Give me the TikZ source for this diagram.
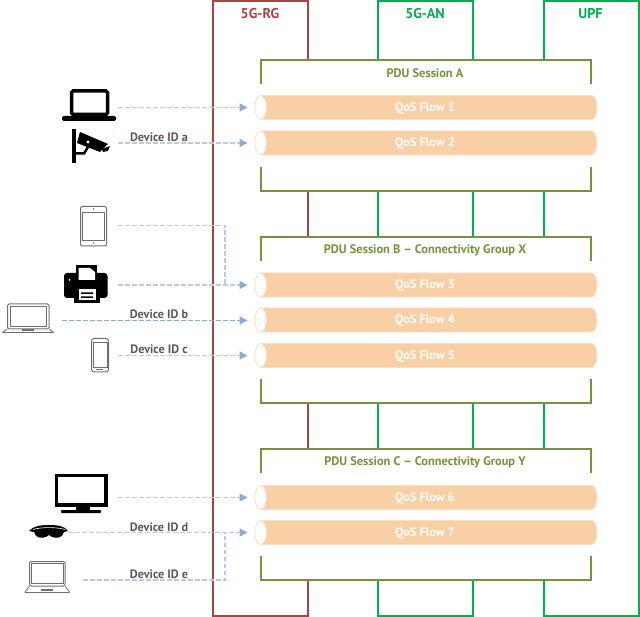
\documentclass[tikz,border=0pt]{standalone}
\usepackage{fontspec}
\setmainfont{PT Sans}
\usetikzlibrary{arrows.meta,shapes.geometric}
\definecolor{rgred}{HTML}{A94442}
\definecolor{angreen}{HTML}{00B050}
\definecolor{pduolive}{HTML}{76923C}
\definecolor{flowpeach}{HTML}{F9CFA6}
\definecolor{flowedge}{HTML}{FBDDC2}
\definecolor{linkblue}{HTML}{B9CBE4}
\definecolor{tipblue}{HTML}{8FAAD6}
\definecolor{idgray}{HTML}{595959}
\definecolor{icongray}{HTML}{6E6E6E}
\tikzset{
  column/.style={draw=#1, line width=1.8pt, minimum width=95pt, minimum height=615pt, inner sep=0pt},
  coltext/.style={text=#1, font=\bfseries\fontsize{14.2}{16}\selectfont, inner sep=0pt},
  session/.style={fill=white, minimum width=330pt, inner sep=0pt},
  bracket/.style={draw=pduolive, line width=1.8pt},
  sesstext/.style={text=pduolive, font=\bfseries\fontsize{12.4}{14}\selectfont, inner sep=0pt},
  flow/.style={cylinder, shape border rotate=180, aspect=1.0, draw=flowedge, line width=0.8pt,
    cylinder uses custom fill, cylinder body fill=flowpeach, cylinder end fill=white,
    minimum width=24pt, minimum height=342pt, inner sep=0pt,
    font=\bfseries\fontsize{12.3}{14}\selectfont},
  flowtext/.style={text=white, font=\bfseries\fontsize{12.3}{14}\selectfont, inner sep=0pt},
  link/.style={draw=linkblue, line width=1.2pt, dash pattern=on 4.5pt off 2.5pt},
  linkstrong/.style={link, draw=tipblue},
  tip/.style={-{Triangle[length=8pt,width=8pt,color=tipblue]}},
  idtext/.style={text=idgray, font=\bfseries\fontsize{12.2}{14}\selectfont, inner sep=0pt},
}
\begin{document}
\begin{tikzpicture}[x=1pt,y=-1pt]
  \useasboundingbox (0,0) rectangle (640,617);

  % network functions
  \node[column=rgred] (rg) at (260.5,308.5) {};
  \node[column=angreen] (an) at (425.5,308.5) {};
  \node[column=angreen] (upf) at (591.5,308.5) {};
  \node[coltext=rgred] (rgtext) at (260,14) {5G-RG};
  \node[coltext=angreen] (antext) at (425,14) {5G-AN};
  \node[coltext=angreen] (upftext) at (590.5,14) {UPF};

  % sessions
  \node[session, minimum height=131pt] (sessA) at (426,125.5) {};
  \node[session, minimum height=166pt] (sessB) at (426,320) {};
  \node[session, minimum height=131pt] (sessC) at (426,514.5) {};
  \foreach \s in {sessA,sessB,sessC} {
    \draw[bracket] ([yshift=-24pt]\s.north west) -- (\s.north west) -- (\s.north east) -- ([yshift=-24pt]\s.north east);
    \draw[bracket] ([yshift=24pt]\s.south west) -- (\s.south west) -- (\s.south east) -- ([yshift=24pt]\s.south east);
  }
  \node[sesstext] (sessAtext) at (425,73) {PDU Session A};
  \node[sesstext] (sessBtext) at (425,250) {PDU Session B – Connectivity Group X};
  \node[sesstext] (sessCtext) at (425,462) {PDU Session C – Connectivity Group Y};

  % flows
  \foreach \f/\y in {1/107.5,2/143,3/285,4/320,5/355.5,6/497.5,7/532.5} {
    \node[flow] (flow\f) at (429,\y) {\phantom{QoS Flow \f}};
    \node[flowtext] (flow\f text) at (425,\y+0.7) {QoS Flow \f};
  }

  % links
  \coordinate (dev1) at (118,107.5);
  \coordinate (dev2) at (118,143);
  \coordinate (dev3) at (118,225.5);
  \coordinate (dev4) at (118,285);
  \coordinate (dev5) at (62,320.5);
  \coordinate (dev6) at (118,355.5);
  \coordinate (dev7) at (118,497.5);
  \coordinate (dev8) at (68,532.5);
  \coordinate (dev9) at (83,580);
  \coordinate (join3) at (225,285);
  \coordinate (join7) at (225,532.5);
  \draw[link] (dev3) -| (join3);
  \draw[link] (dev9) -| (join7);
  \foreach \a/\b/\st in {dev1/flow1/link,dev2/flow2/link,dev4/flow3/link,dev5/flow4/linkstrong,dev6/flow5/link,dev7/flow6/link,dev8/flow7/link}
    \draw[\st,tip] (\a) -- ([xshift=-7pt]\b.west |- \a);

  \node[idtext] (ida) at (159,137) {Device ID a};
  \node[idtext] (idb) at (159,314.5) {Device ID b};
  \node[idtext] (idc) at (159,349.5) {Device ID c};
  \node[idtext] (idd) at (159,527) {Device ID d};
  \node[idtext] (ide) at (159,574) {Device ID e};

  % black laptop
  \draw[line width=3.5pt, rounded corners=1.5pt] (71.5,91) rectangle (107.5,114.5);
  \fill[rounded corners=1.5pt] (62,116) rectangle (116,121);
  % camera
  \fill (72,129) rectangle (76,163);
  \fill (80,132) -- (108,144) -- (100,152) -- (77,143) -- cycle;
  \fill (102,149) -- (110,146) -- (108,151) -- (103,152) -- cycle;
  \draw[line width=2.5pt] (76,153.5) -- (84,153.5) -- (88,147);
  \fill[white] (88,142) circle (1.7pt);
  % tablet
  \draw[icongray, line width=1pt, rounded corners=2pt] (80.5,206.5) rectangle (106.5,246);
  \draw[icongray, line width=0.8pt] (82.5,212) rectangle (104.5,240);
  \fill[icongray] (93.5,209) circle (0.9pt) (93.5,243) circle (0.9pt);
  % printer
  \fill (76,265) rectangle (97,275);
  \fill[rounded corners=3pt] (64,273) rectangle (107.5,298);
  \fill[white] (78.5,268) -- (90,268) -- (95,272) -- (95,280) -- (78.5,280) -- cycle;
  \fill (74,286) rectangle (100,303.5);
  \fill[white] (78.5,289.5) rectangle (95.5,300);
  \fill (81,292.5) rectangle (93,294) (81,296.5) rectangle (93,298);
  \fill[white] (69.5,280) circle (1pt);
  % outline laptop
  \draw[icongray, line width=1pt, rounded corners=1.5pt] (7.5,304) rectangle (49,329);
  \draw[icongray, line width=0.8pt] (10,306.5) rectangle (46.5,326.5);
  \draw[icongray, line width=0.8pt, rounded corners=0.8pt] (7.5,329) -- (2,332.5) -- (54,332.5) -- (49,329);
  \fill[icongray] (22,329) rectangle (34,331);
  % phone
  \draw[icongray, line width=1pt, rounded corners=2.5pt] (91.5,338.5) rectangle (108.5,372);
  \draw[icongray, line width=0.6pt] (93,342) rectangle (107,367);
  \fill[icongray] (96,369) rectangle (103,370.5);
  % monitor
  \draw[line width=3.5pt] (56.5,475.5) rectangle (106,505);
  \fill (76,506) rectangle (90,510.5);
  \fill[rounded corners=0.8pt] (61,510) rectangle (101,513);
  % goggles
  \fill (29,531) .. controls (33,526) and (41,525) .. (49,525) .. controls (57,525) and (65,526) .. (68,531) -- (64,532)
    .. controls (63,538) and (55,540) .. (49,535) .. controls (43,540) and (35,538) .. (34,532) -- cycle;
  \draw[white, line width=0.6pt] (33,529.5) .. controls (41,527) and (57,527) .. (65,529.5);
  % second outline laptop
  \draw[icongray, line width=1pt, rounded corners=1.5pt] (29.5,561.5) rectangle (65,586);
  \draw[icongray, line width=0.6pt] (31.5,563.5) rectangle (63,583);
  \draw[icongray, line width=0.8pt, rounded corners=0.8pt] (29.5,586) -- (24.5,592.5) -- (70,592.5) -- (65,586);
  \fill[icongray] (41,588.5) rectangle (53,590.5);
\end{tikzpicture}
\end{document}
